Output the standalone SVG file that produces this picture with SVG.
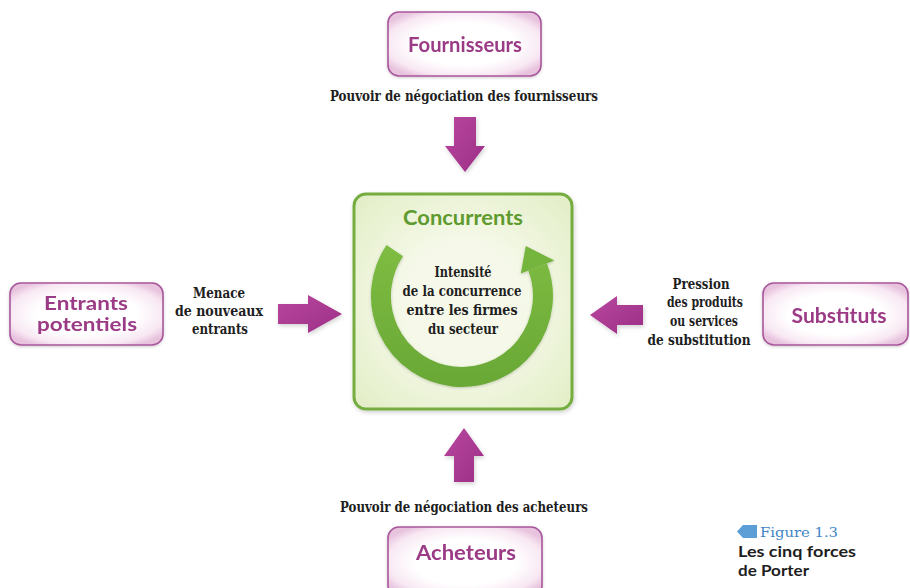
<svg xmlns="http://www.w3.org/2000/svg" width="910" height="588" viewBox="0 0 910 588">
<defs>
<radialGradient id="pinkGlow" cx="50%" cy="50%" r="60%">
<stop offset="0.55" stop-color="#ffffff"/>
<stop offset="0.85" stop-color="#f8e8f3"/>
<stop offset="1" stop-color="#e8c3de"/>
</radialGradient>
<radialGradient id="greenFill" cx="50%" cy="50%" r="65%">
<stop offset="0.4" stop-color="#f6f9ea"/>
<stop offset="1" stop-color="#e4efc9"/>
</radialGradient>
<linearGradient id="arrowGrad" x1="0" y1="0" x2="1" y2="1">
<stop offset="0" stop-color="#b9479f"/>
<stop offset="1" stop-color="#9c2f86"/>
</linearGradient>
<linearGradient id="ringGrad" x1="0" y1="0" x2="0" y2="1">
<stop offset="0" stop-color="#7dbb42"/>
<stop offset="1" stop-color="#6aa936"/>
</linearGradient>
<filter id="shadow" x="-20%" y="-20%" width="140%" height="140%">
<feDropShadow dx="1" dy="2" stdDeviation="2" flood-color="#000000" flood-opacity="0.18"/>
</filter>
<filter id="softShadow" x="-20%" y="-20%" width="140%" height="140%">
<feDropShadow dx="0" dy="1" stdDeviation="1.5" flood-color="#000000" flood-opacity="0.2"/>
</filter>
</defs>
<style>
.pbox { fill: url(#pinkGlow); stroke: #a9579b; stroke-width: 1.6; }
.ptext { font-family: Lato, "Open Sans", "Liberation Sans", sans-serif; font-weight: 700; font-size: 20px; fill: #9b3a86; text-anchor: middle; }
.ptext2 { font-family: Lato, "Open Sans", "Liberation Sans", sans-serif; font-weight: 700; font-size: 18px; fill: #9b3a86; text-anchor: middle; }
.label { font-family: "DejaVu Serif Condensed", "DejaVu Serif", "Liberation Serif", serif; font-weight: 700; font-size: 14.5px; fill: #1e1e1e; text-anchor: middle; }
.arrow { fill: url(#arrowGrad); }
</style>
<rect width="910" height="588" fill="#ffffff"/>

<g id="fournisseurs" filter="url(#softShadow)">
<rect class="pbox" x="388" y="12" width="153" height="64" rx="11"/>
<text class="ptext" x="465" y="52" textLength="114" lengthAdjust="spacingAndGlyphs">Fournisseurs</text>
</g>

<g id="entrants" filter="url(#softShadow)">
<rect class="pbox" x="10" y="283" width="153" height="62" rx="11"/>
<text class="ptext2" x="86" y="310" textLength="84" lengthAdjust="spacingAndGlyphs">Entrants</text>
<text class="ptext2" x="87" y="331" textLength="100" lengthAdjust="spacingAndGlyphs">potentiels</text>
</g>

<g id="substituts" filter="url(#softShadow)">
<rect class="pbox" x="763" y="283" width="145" height="62" rx="11"/>
<text class="ptext" x="839" y="323" textLength="95" lengthAdjust="spacingAndGlyphs">Substituts</text>
</g>

<g id="acheteurs" filter="url(#softShadow)">
<rect class="pbox" x="388" y="527" width="154" height="70" rx="11"/>
<text class="ptext" x="466" y="560" textLength="100" lengthAdjust="spacingAndGlyphs">Acheteurs</text>
</g>

<g id="concurrents">
<rect x="354" y="194" width="218" height="215" rx="12" fill="url(#greenFill)" stroke="#74ad3f" stroke-width="3" filter="url(#shadow)"/>
<text x="463" y="225" font-family="Lato, 'Open Sans', 'Liberation Sans', sans-serif" font-weight="700" font-size="20" fill="#5e9a2e" text-anchor="middle" textLength="120" lengthAdjust="spacingAndGlyphs">Concurrents</text>
<g filter="url(#softShadow)">
<path d="M394.8,250.7 A81,81 0 1 0 537.6,267.0" fill="none" stroke="url(#ringGrad)" stroke-width="20"/>
<polygon points="520.8,273.4 554.4,260.5 525.8,246.1" fill="#74b43c"/>
</g>
<text class="label" x="463" y="277" textLength="57" lengthAdjust="spacingAndGlyphs">Intensité</text>
<text class="label" x="462" y="296" textLength="119" lengthAdjust="spacingAndGlyphs">de la concurrence</text>
<text class="label" x="462" y="315" textLength="111" lengthAdjust="spacingAndGlyphs">entre les firmes</text>
<text class="label" x="463" y="334" textLength="70" lengthAdjust="spacingAndGlyphs">du secteur</text>
</g>

<g id="connectors" filter="url(#shadow)">
<polygon class="arrow" points="454,117 476,117 476,146 485,146 465,172 445,146 454,146"/>
<polygon class="arrow" points="464,428 484,456 474,456 474,482 454,482 454,456 444,456"/>
<polygon class="arrow" points="278,304 308,304 308,295 342,314 308,333 308,324 278,324"/>
<polygon class="arrow" points="590,315 617,296 617,305 643,305 643,325 617,325 617,334"/>
</g>

<g id="labels">
<text class="label" x="464" y="101" textLength="268" lengthAdjust="spacingAndGlyphs">Pouvoir de négociation des fournisseurs</text>
<text class="label" x="464" y="512" textLength="248" lengthAdjust="spacingAndGlyphs">Pouvoir de négociation des acheteurs</text>
<text class="label" x="219" y="298" textLength="52" lengthAdjust="spacingAndGlyphs">Menace</text>
<text class="label" x="219" y="316" textLength="88" lengthAdjust="spacingAndGlyphs">de nouveaux</text>
<text class="label" x="220" y="334" textLength="56" lengthAdjust="spacingAndGlyphs">entrants</text>
<text class="label" x="701" y="289" textLength="57" lengthAdjust="spacingAndGlyphs">Pression</text>
<text class="label" x="705" y="307" textLength="76" lengthAdjust="spacingAndGlyphs">des produits</text>
<text class="label" x="704" y="326" textLength="68" lengthAdjust="spacingAndGlyphs">ou services</text>
<text class="label" x="699" y="345" textLength="103" lengthAdjust="spacingAndGlyphs">de substitution</text>
</g>

<g id="caption">
<polygon points="743,525 757,525 757,538 743,538 737,531.5" fill="#5b9fd6"/>
<text x="760" y="537" font-family="'DejaVu Serif', 'Liberation Serif', serif" font-size="13.5" fill="#3f86c6" textLength="78" lengthAdjust="spacingAndGlyphs">Figure 1.3</text>
<text x="738" y="557" font-family="Lato, 'Open Sans', 'Liberation Sans', sans-serif" font-weight="700" font-size="15" fill="#1e1e1e" textLength="118" lengthAdjust="spacingAndGlyphs">Les cinq forces</text>
<text x="738" y="576" font-family="Lato, 'Open Sans', 'Liberation Sans', sans-serif" font-weight="700" font-size="15" fill="#1e1e1e" textLength="71" lengthAdjust="spacingAndGlyphs">de Porter</text>
</g>
</svg>
